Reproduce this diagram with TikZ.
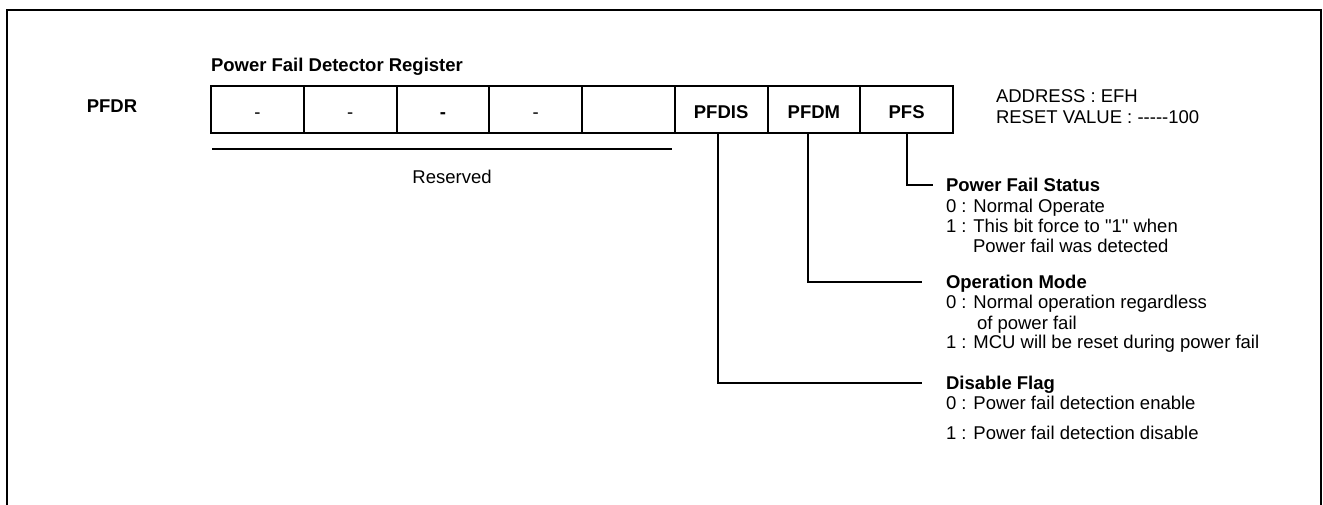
\documentclass[tikz,border=0pt]{standalone}
\usepackage{fontspec}
\setmainfont{Liberation Sans}[Ligatures=TeXOff]
\usetikzlibrary{calc}
\begin{document}
\begin{tikzpicture}[x=1pt,y=-1pt,line width=2pt,
  every node/.style={inner sep=0pt,font=\fontsize{18.5}{21}\selectfont},
  cell/.style={draw,line width=2pt,minimum width=92.75pt,minimum height=47pt,text height=18pt,text depth=0pt,anchor=west},
  txt/.style={anchor=base west},
  hdr/.style={anchor=base west,font=\fontsize{18.5}{21}\selectfont\bfseries},
  conn/.style={line width=2pt}]
\useasboundingbox (0,0) rectangle (1323,504);
% frame (open at the bottom)
\coordinate (fa) at (7,506);
\coordinate (fb) at (7,9.5);
\coordinate (fc) at (1321,9.5);
\coordinate (fd) at (1321,506);
\draw[line width=2pt] (fa) -- (fb) -- (fc) -- (fd);
% title and register name
\node[hdr] (title) at (210,71) {Power Fail Detector Register};
\node[font=\fontsize{18.5}{21}\selectfont\bfseries] (pfdr) at (112,106) {PFDR};
% register cells
\node[cell] (c1) at (210,109.5) {-};
\node[cell] (c2) at (302.75,109.5) {-};
\node[cell,font=\fontsize{18.5}{21}\selectfont\bfseries] (c3) at (395.5,109.5) {-};
\node[cell] (c4) at (488.25,109.5) {-};
\node[cell] (c5) at (581,109.5) {};
\node[cell,font=\fontsize{18.5}{21}\selectfont\bfseries] (c6) at (673.75,109.5) {PFDIS};
\node[cell,font=\fontsize{18.5}{21}\selectfont\bfseries] (c7) at (766.5,109.5) {PFDM};
\node[cell,font=\fontsize{18.5}{21}\selectfont\bfseries] (c8) at (859.25,109.5) {PFS};
% address
\node[txt] (addr) at (995,102) {ADDRESS : EFH};
\node[txt] (rst) at (995,123) {RESET VALUE : -----100};
% reserved
\coordinate (r1) at (212,149);
\coordinate (r2) at (672,149);
\draw[conn] (r1) -- (r2);
\node[anchor=base] (res) at (452,183) {Reserved};
% PFS description
\node[hdr] (pfs) at (945,191.6) {Power Fail Status};
\node[txt] (pfs0) at (945,212) {0 : Normal Operate};
\node[txt] (pfs1) at (945,232) {1 : This bit force to "1" when};
\node[txt] (pfs2) at (972,252) {Power fail was detected};
% PFDM description
\node[hdr] (opm) at (945,288.6) {Operation Mode};
\node[txt] (opm0) at (945,308.6) {0 : Normal operation regardless};
\node[txt] (opm1) at (976,329) {of power fail};
\node[txt] (opm2) at (945,348.6) {1 : MCU will be reset during power fail};
% PFDIS description
\node[hdr] (dis) at (945,389.6) {Disable Flag};
\node[txt] (dis0) at (945,409.6) {0 : Power fail detection enable};
\node[txt] (dis1) at (945,439.6) {1 : Power fail detection disable};
% connectors
\draw[conn] (c8.south) |- ($(pfs.base west)+(-12,-6.6)$);
\draw[conn] ([xshift=-6pt]c7.south) |- ($(opm.base west)+(-23,-6.6)$);
\draw[conn] ([xshift=-3pt]c6.south) |- ($(dis.base west)+(-23,-6.6)$);
\end{tikzpicture}
\end{document}
